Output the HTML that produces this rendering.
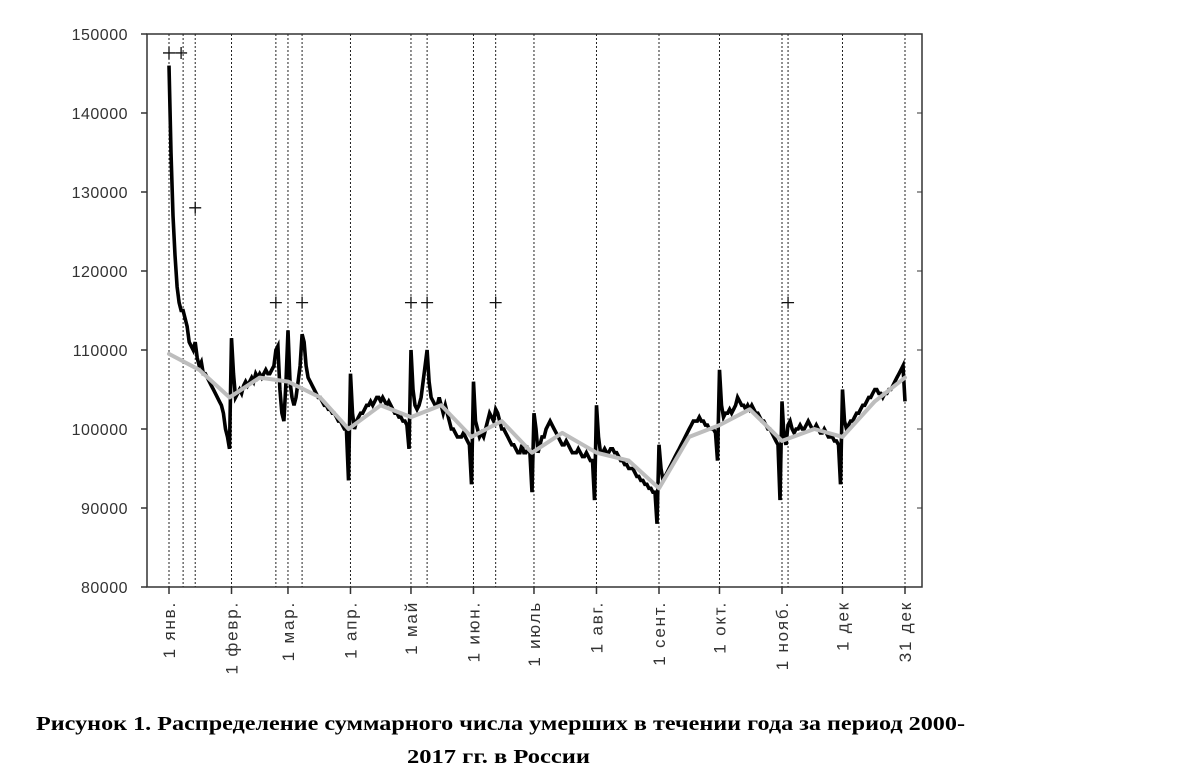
<!DOCTYPE html>
<html><head><meta charset="utf-8"><style>
body{margin:0;background:#fff;width:1200px;height:772px;overflow:hidden}
svg text{font-family:"Liberation Sans",sans-serif}
</style></head><body>
<svg id="chart" width="1200" height="772" style="position:absolute;left:0;top:0">
<text x="36" y="730" font-size="20" font-weight="bold" textLength="929" lengthAdjust="spacingAndGlyphs" style="font-family:'Liberation Serif',serif">Рисунок 1. Распределение суммарного числа умерших в течении года за период 2000-</text>
<text x="407" y="763" font-size="20" font-weight="bold" textLength="183" lengthAdjust="spacingAndGlyphs" style="font-family:'Liberation Serif',serif">2017 гг. в России</text>
</svg>
<script>
const yTicks=[80000,90000,100000,110000,120000,130000,140000,150000];
const monthDays=[0,31,59,90,120,151,181,212,243,273,304,334,365];
const monthLabels=["1 янв.","1 февр.","1 мар.","1 апр.","1 май","1 июн.","1 июль","1 авг.","1 сент.","1 окт.","1 нояб.","1 дек","31 дек"];
const holidayDays=[7,13,53,66,128,162,307];
const crossDays=[0,6,13,53,66,120,128,162,307];
const crossValues=[147.6,147.6,128,116,116,116,116,116,116];
const daily=[146,135,127,122,118,116,115,115,114,113,111,110.5,110,111,109,108,108.5,107,107,106.5,106,105.5,105,104.5,104,103.5,103,102,100,99,97.5,
111.5,107,104,104.5,105,104.5,105.5,106,105.5,106,106.5,106,107,106.5,107,106.5,107,107.5,107,107,107.5,108,110,110.5,105,102,101,106,
112.5,106,104,103,104,106,108,112,111,108,106.5,106,105.5,105,104.5,104,104,103.5,103,103,102.5,102.5,102,102,101.5,101,101,100.5,100,100,93.5,
107,102,100,101,101.5,102,102,102.5,103,103,103.5,103,103.5,104,104,103.5,104,103.5,103,103.5,103,102.5,102,102,101.5,101.5,101,101,100.5,97.5,
110,105,103,102.5,103,104,106,108,110,106,104,103.5,103,103,104,103,102,103,102,101,100,100,99.5,99,99,99,99.5,99,98.5,98,93,
106,101,100,99,99.5,99,100,101,102,101.5,101,102.5,102,101,100,100,99.5,99,98.5,98,98,97.5,97,97,98,97,97,97.5,97,92,
102,100,97,98,99,99,100,100.5,101,100.5,100,99.5,99,98.5,98,98,98.5,98,97.5,97,97,97,97.5,97,96.5,96.5,97,96.5,96,96,91,
103,99,97,97,97.5,97,97,97.5,97.5,97,97,96.5,96,96,95.5,95.5,95,95,95,94.5,94,94,93.5,93.5,93,93,92.5,92.5,92,92,88,
98,95,93.5,94,94.5,95,95.5,96,96.5,97,97.5,98,98.5,99,99.5,100,100.5,101,101,101,101.5,101,101,100.5,100.5,100,100,100,99.5,96,
107.5,103,101.5,102,102,102.5,102,102.5,103,104,103.5,103,103,102.5,103,102.5,103,102.5,102,102,101.5,101,101,100.5,100,100,99.5,99,98.5,98,91,
103.5,99,98,100.5,101,100,99.5,100,100,100.5,100,100,100.5,101,100.5,100,100,100.5,100,99.5,99.5,100,99.5,99,99,99,98.5,98.5,98,93,
105,101,100,100.5,101,101,101.5,102,102,102.5,103,103,103.5,104,104,104.5,105,105,104.5,104.5,104,104.5,104.5,105,105,105.5,106,106.5,107,107.5,108,103.5];
const smoothDays=[0,15,30,45,59,75,89,105,120,135,150,165,180,195,212,228,243,258,273,288,304,320,334,350,365];
const smoothVals=[109.5,107.5,104,106.5,106,104,100,103,101.5,103,99,101,97,99.5,97,96,92.5,99,100.5,102.5,98.5,100,99,103.5,106.5];

const NS="http://www.w3.org/2000/svg";
const svg=document.getElementById('chart');
const L=147,R=922,T=34,B=587,X0=169,X1=905;
const xS=d=>X0+(X1-X0)*d/365;
const yS=v=>B-(B-T)*(v-80000)/70000;
function mk(tag,attrs,parent){const e=document.createElementNS(NS,tag);for(const k in attrs)e.setAttribute(k,attrs[k]);(parent||svg).appendChild(e);return e;}

const frame=mk('rect',{x:L,y:T,width:R-L,height:B-T,fill:'none',stroke:'#333','stroke-width':1.5});



yTicks.forEach(v=>{
  const y=yS(v);
  const t=mk('line',{x1:L-6,x2:L,y1:y,y2:y,stroke:'#333','stroke-width':1.5});
  
  
  const t2=mk('line',{x1:R-5,x2:R,y1:y,y2:y,stroke:'#333','stroke-width':1});
  
  
  const lb=mk('text',{x:128,y:y+6,'text-anchor':'end','font-size':16,fill:'#333','letter-spacing':0.5});
  lb.textContent=v;
  
  
});

const vlines=monthDays.concat(holidayDays);
vlines.forEach(d=>{
  const x=xS(d);
  const l=mk('line',{x1:x,x2:x,y1:T,y2:B,stroke:'#222','stroke-width':1,'stroke-dasharray':'2,2'});
  
  
});
monthDays.forEach((d,i)=>{
  const x=xS(d);
  const t=mk('line',{x1:x,x2:x,y1:B,y2:B+7,stroke:'#333','stroke-width':1.5});
  
  
  const lb=mk('text',{x:0,y:0,'text-anchor':'end','font-size':17,fill:'#333','letter-spacing':1.8,transform:`translate(${x+6},601) rotate(-90)`});
  lb.textContent=monthLabels[i];
  
  
});

const dp=daily.map((v,i)=>xS(i).toFixed(1)+','+yS(v*1000).toFixed(1)).join(' ');
const dl=mk('polyline',{points:dp,fill:'none',stroke:'#000','stroke-width':3.6,'stroke-linejoin':'miter'});



const sp=smoothVals.map((v,i)=>xS(smoothDays[i]).toFixed(1)+','+yS(v*1000).toFixed(1)).join(' ');
const sl=mk('polyline',{points:sp,fill:'none',stroke:'#bdbdbd','stroke-width':4,'stroke-linejoin':'round','stroke-linecap':'round'});



crossDays.forEach((d,i)=>{
  const x=xS(d),y=yS(crossValues[i]*1000);
  const c=mk('path',{d:`M${x-6},${y}H${x+6}M${x},${y-6}V${y+6}`,stroke:'#111','stroke-width':1.3,fill:'none'});
  
  
});
</script>
</body></html>
